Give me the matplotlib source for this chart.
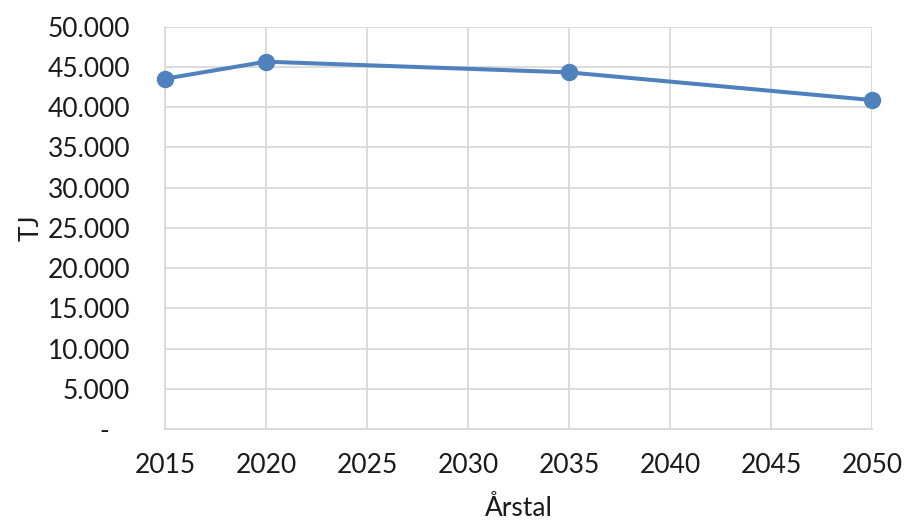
import matplotlib.pyplot as plt
from matplotlib.ticker import FuncFormatter

# Data
years = [2015, 2020, 2035, 2050]
tj = [43530, 45650, 44320, 40880]
x_ticks = [2015, 2020, 2025, 2030, 2035, 2040, 2045, 2050]
y_ticks = [0, 5000, 10000, 15000, 20000, 25000, 30000, 35000, 40000, 45000, 50000]

plt.rcParams["font.family"] = ["Lato", "DejaVu Sans"]

fig = plt.figure(figsize=(9.05, 5.23), dpi=100)
ax = fig.add_axes([0.1823, 0.1797, 0.7812, 0.7693])

ax.plot(years, tj, color="#4f81bd", lw=2.9, marker="o", markersize=11.5,
        solid_capstyle="round", zorder=3, clip_on=False)

ax.set_xlim(2015, 2050)
ax.set_ylim(0, 50000)
ax.set_xticks(x_ticks)
ax.set_yticks(y_ticks)


def fmt(v, pos):
    if v == 0:
        return "-   "
    return f"{int(v):,}".replace(",", ".")


ax.yaxis.set_major_formatter(FuncFormatter(fmt))
ax.grid(True, color="#d9d9d9", lw=1.3)
ax.set_axisbelow(True)
for s in ["top", "right"]:
    ax.spines[s].set_visible(False)
for s in ["left", "bottom"]:
    ax.spines[s].set_color("#d9d9d9")
    ax.spines[s].set_linewidth(1.3)
ax.tick_params(axis="both", length=0, labelsize=19, colors="#1a1a1a")
ax.tick_params(axis="y", pad=25)
ax.tick_params(axis="x", pad=17)

ax.set_xlabel("Årstal", fontsize=19, color="#1a1a1a", labelpad=13)
ax.set_ylabel("TJ", fontsize=19, color="#1a1a1a", labelpad=3)

fig.savefig("out.png", dpi=100)
